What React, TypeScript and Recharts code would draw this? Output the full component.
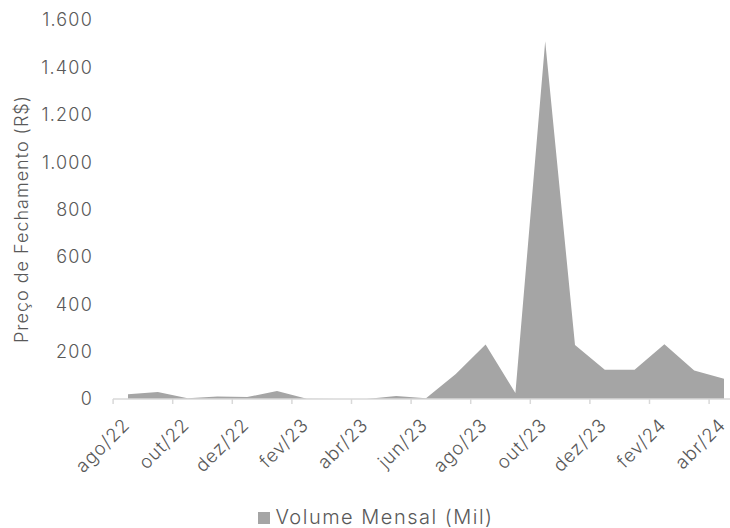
import { Area, AreaChart, XAxis, YAxis } from "recharts";

const months = [
  "ago/22", "set/22", "out/22", "nov/22", "dez/22", "jan/23", "fev/23",
  "mar/23", "abr/23", "mai/23", "jun/23", "jul/23", "ago/23", "set/23",
  "out/23", "nov/23", "dez/23", "jan/24", "fev/24", "mar/24", "abr/24",
];
const volume = [
  20, 30, 3, 11, 8, 34, 1, 0, 0, 13, 3, 106, 230, 25, 1510, 228, 124, 124, 231, 120, 85,
];
const yTicks = [0, 200, 400, 600, 800, 1000, 1200, 1400, 1600];

const data = months.map((m, i) => ({ m, v: volume[i] }));

const FONT = "Inter, 'Open Sans', sans-serif";
const TEXT = "#595959";
const AXIS = "#d9d9d9";
const FILL = "#a5a5a5";

const fmt = (v: number) => String(v).replace(/\B(?=(\d{3})+(?!\d))/g, ".");

function MonthTick(props: any) {
  const { x, y, payload } = props;
  const half = 14.9;
  const ex = x + 3;
  const ey = y + 19;
  return (
    <g>
      <line x1={x - half} y1={y - 8} x2={x - half} y2={y - 3} stroke={AXIS} strokeWidth={1.5} />
      <text
        x={ex}
        y={ey}
        textAnchor="end"
        fill={TEXT}
        fontSize={18.5}
        fontWeight={300}
        letterSpacing={1}
        fontFamily={FONT}
        transform={`rotate(-45 ${ex} ${ey})`}
      >
        {payload.value}
      </text>
    </g>
  );
}

function YTitle() {
  return (
    <text
      x={21}
      y={219}
      textAnchor="middle"
      dominantBaseline="central"
      fill={TEXT}
      fontSize={18}
      fontWeight={300}
      letterSpacing={1}
      fontFamily={FONT}
      transform="rotate(-90 21 219)"
    >
      Preço de Fechamento (R$)
    </text>
  );
}

export default function App() {
  return (
    <div style={{ position: "absolute", left: 0, top: 0, width: 730, height: 528, overflow: "hidden", background: "#fff" }}>
      <AreaChart width={745} height={528} data={data} margin={{ top: 20, right: 6, left: 0, bottom: 0 }}>
        <XAxis
          dataKey="m"
          interval={1}
          padding={{ left: 15, right: 15 }}
          axisLine={{ stroke: AXIS, strokeWidth: 1.5 }}
          tickLine={false}
          tick={<MonthTick />}
          height={129}
        />
        <YAxis
          domain={[0, 1600]}
          ticks={yTicks}
          width={113}
          axisLine={false}
          tickLine={false}
          tickSize={0}
          tickMargin={20}
          tickFormatter={fmt}
          tick={{ fill: TEXT, fontSize: 18, fontWeight: 300, fontFamily: FONT, letterSpacing: 1.2 }}
          label={{ content: <YTitle /> }}
        />
        <Area
          type="linear"
          dataKey="v"
          stroke="none"
          fill={FILL}
          fillOpacity={1}
          isAnimationActive={false}
        />
      </AreaChart>
      <div
        style={{
          position: "absolute",
          left: 0,
          top: 505,
          width: 730,
          paddingLeft: 22,
          boxSizing: "border-box",
          textAlign: "center",
          fontFamily: FONT,
          fontWeight: 300,
          fontSize: 20,
          letterSpacing: 1.5,
          lineHeight: "24px",
          color: TEXT,
          whiteSpace: "nowrap",
        }}
      >
        <span style={{ display: "inline-block", width: 12, height: 12, background: FILL, marginRight: 5 }} />
        Volume Mensal (Mil)
      </div>
    </div>
  );
}
